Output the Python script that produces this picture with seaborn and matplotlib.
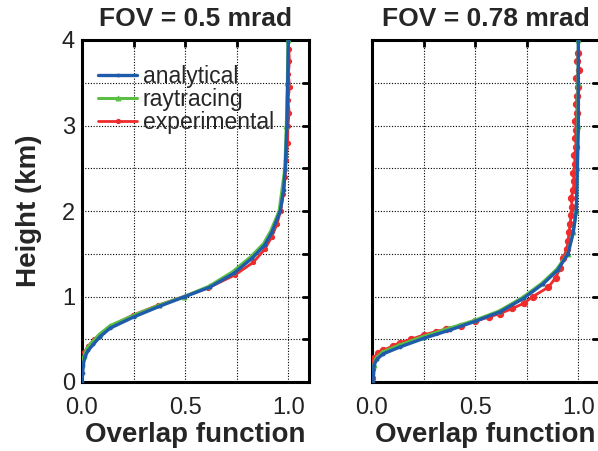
import numpy as np
import matplotlib
matplotlib.use("Agg")
import matplotlib.pyplot as plt
import seaborn as sns

# FOV = 0.5 mrad
left_ana_h = [0, 0.1, 0.2, 0.3, 0.37, 0.44, 0.53, 0.63, 0.76, 0.89, 1.0, 1.11, 1.27,
              1.45, 1.6, 1.75, 2.0, 2.25, 2.5, 3.0, 3.5, 4.0]
left_ana_x = [0, 0.003, 0.006, 0.015, 0.03, 0.055, 0.087, 0.136, 0.25, 0.38, 0.5, 0.62,
              0.735, 0.825, 0.885, 0.92, 0.961, 0.977, 0.985, 0.993, 0.997, 1.0]
left_ray_h = [0.2, 0.3, 0.4, 0.47, 0.56, 0.66, 0.78, 0.9, 1.0, 1.12, 1.29, 1.47, 1.62,
              1.77, 2.0, 2.5, 3.0, 3.5, 4.0]
left_ray_x = [0.0, 0.008, 0.025, 0.05, 0.085, 0.136, 0.25, 0.375, 0.495, 0.615, 0.73,
              0.82, 0.88, 0.915, 0.955, 0.983, 0.99, 0.995, 0.998]
left_exp_h = [0.35, 0.42, 0.5, 0.58, 0.68, 0.78, 0.9, 1.0, 1.1, 1.25, 1.4, 1.55, 1.7,
              1.85, 2.0, 2.2, 2.4, 2.6, 2.8, 3.0, 3.15, 3.3, 3.45, 3.6, 3.75, 3.9]
left_exp_x = [0.012, 0.03, 0.06, 0.1, 0.16, 0.245, 0.37, 0.495, 0.61, 0.74, 0.83, 0.885,
              0.92, 0.945, 0.962, 0.976, 0.984, 0.99, 0.996, 0.998, 1.004, 0.998, 1.006,
              1.0, 1.005, 1.002]

# FOV = 0.78 mrad
right_ana_h = [0.0, 0.1, 0.2, 0.27, 0.33, 0.41, 0.51, 0.61, 0.71, 0.82, 0.98, 1.15,
               1.31, 1.5, 1.75, 2.0, 2.5, 3.0, 3.5, 4.0]
right_ana_x = [0.005, 0.007, 0.01, 0.025, 0.055, 0.136, 0.25, 0.38, 0.5, 0.62, 0.735,
               0.83, 0.9, 0.95, 0.975, 0.99, 0.995, 1.0, 1.0, 1.0]
right_ray_h = [0.1, 0.2, 0.28, 0.35, 0.43, 0.53, 0.63, 0.72, 0.83, 0.99, 1.16, 1.32,
               1.5, 1.75, 2.0, 2.5, 3.0, 3.5, 4.0]
right_ray_x = [0.0, 0.008, 0.02, 0.05, 0.13, 0.245, 0.375, 0.495, 0.615, 0.73, 0.825,
               0.895, 0.948, 0.975, 0.99, 0.995, 0.997, 0.998, 1.0]
right_exp_h = [0.05, 0.15, 0.28, 0.34, 0.37, 0.42, 0.46, 0.5, 0.55, 0.59, 0.62, 0.66,
               0.71, 0.76, 0.8, 0.86, 0.92, 1.0, 1.11, 1.22, 1.33, 1.45, 1.55, 1.65,
               1.75, 1.85, 1.95, 2.05, 2.15, 2.25, 2.35, 2.45, 2.55, 2.65, 2.75, 2.85,
               2.95, 3.05, 3.15, 3.25, 3.35, 3.45, 3.55, 3.65, 3.75, 3.85]
right_exp_x = [0.0, 0.0, 0.01, 0.03, 0.055, 0.1, 0.136, 0.19, 0.25, 0.31, 0.36, 0.43,
               0.5, 0.565, 0.62, 0.68, 0.735, 0.78, 0.855, 0.89, 0.91, 0.925, 0.945,
               0.95, 0.955, 0.96, 0.965, 0.97, 0.965, 0.975, 0.98, 0.975, 0.985, 0.98,
               0.99, 0.985, 0.99, 0.985, 0.995, 0.99, 0.995, 1.0, 0.99, 1.005, 0.995,
               1.0]

titles = ["FOV = 0.5 mrad", "FOV = 0.78 mrad"]
x_ticks = [0, 0.25, 0.5, 0.75, 1.0]
x_ticklabels = ["0.0", "", "0.5", "", "1.0"]
y_ticks = [0, 0.5, 1, 1.5, 2, 2.5, 3, 3.5, 4]
y_ticklabels = ["0", "", "1", "", "2", "", "3", "", "4"]

BLUE = "#1f5bab"
GREEN = "#5cbf45"
RED = "#ef2b2b"

sns.set_style("white")
plt.rcParams["font.family"] = ["Liberation Sans", "DejaVu Sans"]

fig = plt.figure(figsize=(5.98, 4.51), dpi=100)
ax1 = fig.add_axes([82 / 598, 69 / 451, 227 / 598, 342 / 451])
ax2 = fig.add_axes([372 / 598, 69 / 451, 227 / 598, 342 / 451])

panels = [
    (ax1, (left_ana_x, left_ana_h), (left_ray_x, left_ray_h), (left_exp_x, left_exp_h), 3.0),
    (ax2, (right_ana_x, right_ana_h), (right_ray_x, right_ray_h), (right_exp_x, right_exp_h), 4.5),
]

for i, (ax, ana, ray, exp, exp_ms) in enumerate(panels):
    sns.lineplot(x=exp[0], y=exp[1], sort=False, estimator=None, ax=ax, color=RED,
                 lw=2.0, marker="o", ms=exp_ms, mec=RED, label="experimental", zorder=3)
    sns.lineplot(x=ray[0], y=ray[1], sort=False, estimator=None, ax=ax, color=GREEN,
                 lw=2.2, marker="^", ms=3.5, mec=GREEN, label="raytracing", zorder=4)
    sns.lineplot(x=ana[0], y=ana[1], sort=False, estimator=None, ax=ax, color=BLUE,
                 lw=2.4, marker=".", ms=4, mec=BLUE, label="analytical", zorder=5)

    ax.set_xlim(0, 1.1)
    ax.set_ylim(0, 4)
    ax.set_xticks(x_ticks)
    ax.set_xticklabels(x_ticklabels)
    ax.set_yticks(y_ticks)
    if i == 0:
        ax.set_yticklabels(y_ticklabels)
        ax.set_ylabel("Height (km)", fontsize=20, fontweight="bold", labelpad=14)
    else:
        ax.set_yticklabels([])
        ax.set_ylabel("")
    ax.set_xlabel("Overlap function", fontsize=20, fontweight="bold", labelpad=2)
    ax.set_title(titles[i], fontsize=19, fontweight="bold", pad=10)

    ax.grid(True, color="black", linestyle=(0, (1, 1.5)), linewidth=0.8)
    ax.set_axisbelow(True)
    ax.tick_params(direction="in", length=5, width=2, top=True, right=True,
                   labelsize=17, pad=5, colors="black")
    ax.tick_params(axis="x", labelcolor="#222222", pad=11)
    ax.tick_params(axis="y", labelcolor="#222222")
    for sp in ax.spines.values():
        sp.set_visible(True)
        sp.set_linewidth(2.2)
        sp.set_color("black")

    handles, labels = ax.get_legend_handles_labels()
    if i == 0:
        order = [2, 1, 0]
        ax.legend([handles[k] for k in order], [labels[k] for k in order],
                  loc="upper left", bbox_to_anchor=(0.0, 0.975), frameon=False,
                  fontsize=16.5, handlelength=1.7, handletextpad=0.25,
                  labelspacing=0.0, borderaxespad=0.3, borderpad=0.4)
    else:
        ax.get_legend().remove()

fig.savefig("out.png", dpi=100)
